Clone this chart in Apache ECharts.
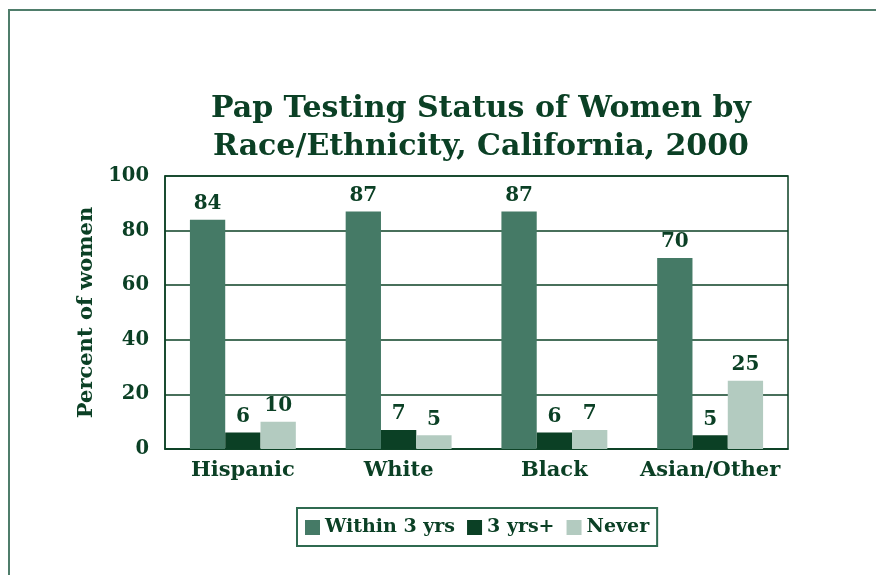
<!DOCTYPE html>
<html><head><meta charset="utf-8">
<script src="https://cdn.jsdelivr.net/npm/echarts@6/dist/echarts.min.js"></script>
<style>html,body{margin:0;padding:0;background:#fff}#c{width:876px;height:575px}</style>
</head><body><div id="c"></div>
<script>
const categories = ["Hispanic", "White", "Black", "Asian/Other"];
const within3 = [84, 87, 87, 70];
const over3 = [6, 7, 6, 5];
const never = [10, 5, 7, 25];
const seriesNames = ["Within 3 yrs", "3 yrs+", "Never"];
const yTicks = [0, 20, 40, 60, 80, 100];

const FONT = "DejaVu Serif";
const TXT = "#0b4025";
const colors = ["#457a66", "#0b4025", "#b3cbc0"];
const chart = echarts.init(document.getElementById('c'));
const lbl = {show: true, position: 'top', distance: 6, color: TXT, fontFamily: FONT, fontWeight: 'bold', fontSize: 20};
chart.setOption({
  animation: false,
  textStyle: {fontFamily: FONT},
  graphic: [{type: 'rect', shape: {x: 9, y: 10, width: 900, height: 600}, style: {fill: 'none', stroke: '#4f7d6b', lineWidth: 2}}],
  title: {
    text: "Pap Testing Status of Women by\nRace/Ethnicity, California, 2000",
    left: 476, textAlign: 'center', top: 85,
    textStyle: {fontFamily: FONT, fontWeight: 'bold', fontSize: 30, color: TXT, lineHeight: 38}
  },
  legend: {
    data: seriesNames, left: 297, top: 508,
    itemWidth: 15, itemHeight: 15, itemGap: 12,
    borderColor: '#2f6a50', borderWidth: 2, padding: [10, 8, 9, 8],
    textStyle: {fontFamily: FONT, fontWeight: 'bold', fontSize: 19, color: TXT},
    icon: 'rect'
  },
  grid: {left: 165, right: 88, top: 176, bottom: 126, show: true, borderColor: TXT, borderWidth: 1.5},
  xAxis: {
    type: 'category', data: categories,
    axisTick: {show: false},
    axisLine: {lineStyle: {color: TXT, width: 1.5}},
    axisLabel: {interval: 0, color: TXT, fontFamily: FONT, fontWeight: 'bold', fontSize: 21, margin: 11}
  },
  yAxis: {
    type: 'value', min: yTicks[0], max: yTicks[yTicks.length - 1], interval: 20,
    name: 'Percent of women', nameLocation: 'middle', nameGap: 54,
    nameTextStyle: {color: TXT, fontFamily: FONT, fontWeight: 'bold', fontSize: 21},
    axisLine: {show: true, lineStyle: {color: TXT, width: 1.5}},
    axisTick: {show: false},
    splitLine: {lineStyle: {color: TXT, width: 1.5}},
    axisLabel: {color: TXT, fontFamily: FONT, fontWeight: 'bold', fontSize: 19.5, margin: 16}
  },
  series: [
    {name: seriesNames[0], type: 'bar', data: within3, barGap: '0%', barCategoryGap: '32%', itemStyle: {color: colors[0]}, label: lbl},
    {name: seriesNames[1], type: 'bar', data: over3, barGap: '0%', barCategoryGap: '32%', itemStyle: {color: colors[1]}, label: lbl},
    {name: seriesNames[2], type: 'bar', data: never, barGap: '0%', barCategoryGap: '32%', itemStyle: {color: colors[2]}, label: lbl}
  ]
});
</script></body></html>
